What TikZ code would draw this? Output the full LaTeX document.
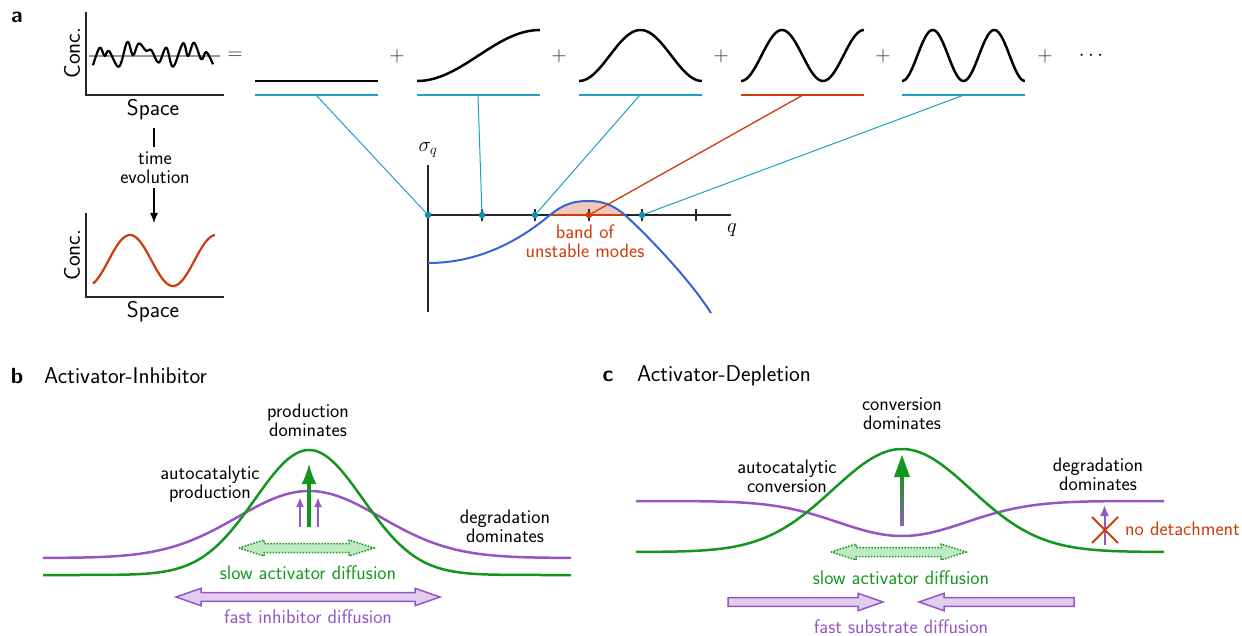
\documentclass[tikz,border=0pt]{standalone}
\usetikzlibrary{arrows.meta}
\definecolor{cyanL}{RGB}{30,160,195}
\definecolor{dotC}{RGB}{10,145,175}
\definecolor{redC}{RGB}{205,60,10}
\definecolor{blueC}{RGB}{50,100,210}
\definecolor{greenC}{RGB}{20,150,30}
\definecolor{purpleC}{RGB}{150,85,195}
\definecolor{lgreen}{RGB}{190,235,195}
\definecolor{lpurple}{RGB}{225,205,238}
\definecolor{pinkC}{RGB}{240,200,188}
\begin{document}
\begin{tikzpicture}[x=1pt,y=-1pt,
  lbl/.style={font=\fontsize{19.6}{19}\selectfont\sffamily, align=center, inner sep=0},
  big/.style={font=\fontsize{22.8}{23}\selectfont\sffamily, inner sep=0},
  panel/.style={font=\fontsize{22}{23}\selectfont\sffamily\bfseries, inner sep=0},
  mth/.style={font=\fontsize{22}{23}\selectfont, inner sep=0},
  axis/.style={line width=1.2, black!85},
  mode/.style={line width=2.5, black},
  bar/.style={line width=1.5, cyanL},
  conn/.style={line width=1, cyanL},
  dot/.style={circle, fill=dotC, inner sep=0, minimum size=6.5},
  fatg/.style={fill=lgreen, draw=greenC, line width=1.5, dash pattern=on 1.5pt off 1.5pt},
  fatp/.style={fill=lpurple, draw=purpleC, line width=1.5},
]
\useasboundingbox (0,0) rectangle (1242,636);

% ---------- panel a ----------
\node[panel] (la) at (17,17) {a};
% noisy plot
\draw[axis] (86,12) -- (86,95) -- (224,95);
\draw[line width=1.5, black!40] (89,56) -- (220,56);
\draw[line width=2.2, line join=round] plot[smooth, tension=0.6] coordinates {
  (93,65.3) (99.7,47.7) (104.7,56) (109,51) (119,66.7) (127.3,42) (133,55.3)
  (138.7,43.3) (146.3,51) (151.3,50) (158.7,62.7) (166.3,47.7) (173,66.7)
  (183,43.3) (188,56) (194,42.7) (201.3,59.3) (206.3,52) (213,64.3)};
\node[big, rotate=90] (conc1) at (72,53) {Conc.};
\node[big] (space1) at (153,110) {Space};
\coordinate (t0) at (154,128);
\coordinate (t1) at (154,147);
\coordinate (t2) at (154,188);
\coordinate (t3) at (154,223);
\node[lbl] (tev) at (155,167.5) {time\\evolution};
\draw[line width=1.3] (t0) -- (t1);
\draw[line width=1.3, -{Latex[length=10,width=8]}] (t2) -- (t3);
% final pattern plot
\draw[axis] (86,213) -- (86,297) -- (224,297);
\draw[line width=2.2, redC] plot[domain=93:215, samples=120]
  (\x, {260.5 + 25.5*cos((\x-87)/43*180)});
\node[big, rotate=90] (conc2) at (72,255) {Conc.};
\node[big] (space2) at (153,312) {Space};

% decomposition
\node[mth, black!85] (eq) at (235,56) {$=$};
\foreach \k/\xo [count=\i] in {0/255,1/417,2/579,3/741,4/902}{
  \draw[mode] plot[domain=0:1, samples=80] ({\xo+123*\x}, {81 - 25.5*(1-cos(180*\k*\x))});
}
\foreach \xp in {397,559,721,883,1045}{
  \node[mth, black!85] at (\xp,56) {$+$};
}
\node[mth] (dots) at (1091,56) {$\cdots$};
\draw[bar] (255,95) -- (378,95);
\draw[bar] (417,95) -- (540,95);
\draw[bar] (579,95) -- (702,95);
\draw[line width=2, redC] (741,95) -- (864,95);
\draw[bar] (902,95) -- (1025,95);
\coordinate (m0) at (316,95);
\coordinate (m1) at (478,95);
\coordinate (m2) at (640,95);
\coordinate (m3) at (803,95);
\coordinate (m4) at (964,95);

% dispersion relation
\fill[pinkC] (550,215) .. controls (565,203) and (575,201) .. (589,201)
  .. controls (603,201) and (613,205) .. (625,215) -- cycle;
\draw[axis] (428,165) -- (428,312);
\draw[axis] (428,215) -- (731,215);
\foreach \xt in {482,535,589,642,696}{
  \draw[axis] (\xt,209) -- (\xt,221);
}
\draw[line width=2.5, redC] (550,215) -- (625,215);
\draw[line width=2, blueC] (428,263) .. controls (480,263) and (520,240) .. (550,215)
  .. controls (565,203) and (575,201) .. (589,201)
  .. controls (603,201) and (613,205) .. (625,215)
  .. controls (650,238) and (690,280) .. (711,313);
\node[mth] (sig) at (428,150) {$\sigma_q$};
\node[mth] (ql) at (732,230) {$q$};
\node[dot] (d0) at (428,215) {};
\node[dot] (d1) at (482,215) {};
\node[dot] (d2) at (535,215) {};
\node[dot, fill=redC] (d3) at (589,215) {};
\node[dot] (d4) at (642,215) {};
\draw[conn] (m0) -- (d0);
\draw[conn] (m1) -- (d1);
\draw[conn] (m2) -- (d2);
\draw[line width=1.3, redC] (m3) -- (d3);
\draw[conn] (m4) -- (d4);
\node[lbl, text=redC] (band) at (585,241.5) {band of\\unstable modes};

% ---------- panel b ----------
\node[panel] (lb) at (17,376) {b};
\node[big, anchor=west] (tb) at (44,376) {Activator-Inhibitor};
\node[lbl] (pd) at (308,420) {production\\dominates};
\node[lbl] (ap) at (210,484.5) {autocatalytic\\production};
\node[lbl] (dd) at (505,526) {degradation\\dominates};
\draw[purpleC, line width=2.5] plot[domain=43:571, samples=160]
  (\x, {558 - 67*exp(-0.5*((\x-309)/72)^2)});
\draw[greenC, line width=2.5] plot[domain=43:571, samples=160]
  (\x, {575 - 125*exp(-0.5*((\x-309)/54)^2)});
\coordinate (ga0) at (309,527);
\coordinate (ga1) at (309,463);
\draw[greenC, line width=3.5, -{Latex[length=21,width=15]}] (ga0) -- (ga1);
\coordinate (pa0) at (300,527);
\coordinate (pa1) at (300,497);
\coordinate (pb0) at (318,527);
\coordinate (pb1) at (318,497);
\draw[purpleC, line width=2, -{Latex[length=10,width=8]}] (pa0) -- (pa1);
\draw[purpleC, line width=2, -{Latex[length=10,width=8]}] (pb0) -- (pb1);
\draw[fatg] (239,548) -- (264,540) -- (264,543.5) -- (349,543.5) -- (349,540) -- (374,548)
  -- (349,556) -- (349,552.5) -- (264,552.5) -- (264,556) -- cycle;
\node[lbl, text=greenC] (sad) at (308,573) {slow activator diffusion};
\draw[fatp] (176,597) -- (201,588.3) -- (201,592.7) -- (415,592.7) -- (415,588.3) -- (440,597)
  -- (415,605.7) -- (415,601.3) -- (201,601.3) -- (201,605.7) -- cycle;
\node[lbl, text=purpleC] (fid) at (308,617) {fast inhibitor diffusion};

% ---------- panel c ----------
\node[panel] (lc) at (608,376) {c};
\node[big, anchor=west] (tc) at (637,376) {Activator-Depletion};
\node[lbl] (cd) at (902,414) {conversion\\dominates};
\node[lbl] (ac) at (787,476.5) {autocatalytic\\conversion};
\node[lbl] (dd2) at (1098,474) {degradation\\dominates};
\draw[purpleC, line width=2.5] plot[domain=636:1164, samples=160]
  (\x, {501 + 35*exp(-0.5*((\x-902)/64)^2)});
\draw[greenC, line width=2.5] plot[domain=636:1164, samples=160]
  (\x, {552 - 103*exp(-0.5*((\x-902)/69)^2)});
\coordinate (ca0) at (902,525);
\coordinate (ca1) at (902,455);
\shade[bottom color=purpleC!70!gray, top color=greenC] (900.2,525) rectangle (903.8,474);
\fill[greenC] (ca1) -- (894,477) -- (910,477) -- cycle;
\coordinate (na0) at (1104.5,545);
\coordinate (na1) at (1104.5,505);
\draw[purpleC, line width=2, -{Latex[length=11,width=9]}] (na0) -- (na1);
\draw[redC, line width=2] (1092,517) -- (1118,543);
\draw[redC, line width=2] (1092,543) -- (1118,517);
\node[lbl, text=redC, anchor=west] (nd) at (1125,529) {no detachment};
\draw[fatg] (831,552) -- (856,544) -- (856,547.5) -- (941,547.5) -- (941,544) -- (966,552)
  -- (941,560) -- (941,556.5) -- (856,556.5) -- (856,560) -- cycle;
\node[lbl, text=greenC] (sad2) at (901,578) {slow activator diffusion};
\draw[fatp] (728,597.7) -- (858,597.7) -- (858,593.3) -- (883,602) -- (858,610.7)
  -- (858,606.3) -- (728,606.3) -- cycle;
\draw[fatp] (1074,597.7) -- (944,597.7) -- (944,593.3) -- (919,602) -- (944,610.7)
  -- (944,606.3) -- (1074,606.3) -- cycle;
\node[lbl, text=purpleC] (fsd) at (901,626.5) {fast substrate diffusion};
\end{tikzpicture}
\end{document}
